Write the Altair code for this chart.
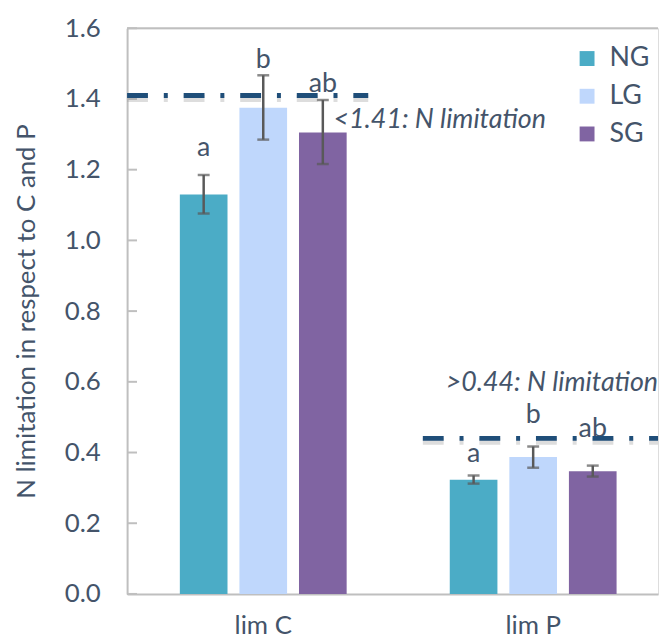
import altair as alt
import pandas as pd

# ---- data ----
groups = ["lim C", "lim C", "lim C", "lim P", "lim P", "lim P"]
treatments = ["NG", "LG", "SG", "NG", "LG", "SG"]
means = [1.13, 1.375, 1.305, 0.323, 0.387, 0.347]
err_low = [1.076, 1.285, 1.216, 0.312, 0.357, 0.332]
err_high = [1.185, 1.467, 1.397, 0.335, 0.417, 0.363]
letters = ["a", "b", "ab", "a", "b", "ab"]
letter_y = [1.26, 1.51, 1.443, 0.396, 0.505, 0.466]

y_ticks = [0.0, 0.2, 0.4, 0.6, 0.8, 1.0, 1.2, 1.4, 1.6]
thr_values = [1.41, 0.44]
thr_labels = ["<1.41: N limitation", ">0.44: N limitation"]
thr_label_y = [1.339, 0.597]

treat_order = ["NG", "LG", "SG"]
treat_colors = ["#4BACC6", "#BFD7FC", "#8064A2"]
group_order = ["lim C", "lim P"]

Y_TITLE = "N limitation in respect to C and P"
FONT = "Lato"
TXT = "#44546A"
GRID = "#BFBFBF"
W, H = 535, 570

df = pd.DataFrame({
    "group": groups, "treatment": treatments, "mean": means,
    "lo": err_low, "hi": err_high, "letter": letters, "ly": letter_y,
})
ticks_df = pd.DataFrame({"v": y_ticks})
thr1 = pd.DataFrame({"v": [thr_values[0]], "t": [thr_labels[0]], "ty": [thr_label_y[0]]})
thr2 = pd.DataFrame({"v": [thr_values[1]], "t": [thr_labels[1]], "ty": [thr_label_y[1]]})
top_df = pd.DataFrame({"v": [y_ticks[-1]]})

yscale = alt.Scale(domain=[0, 1.6], nice=False, zero=True)
xscale = alt.Scale(domain=group_order, paddingInner=0.382, paddingOuter=0.1745, align=0.56)
xoscale = alt.Scale(domain=treat_order, paddingInner=0.2, paddingOuter=0)

x_enc = alt.X("group:N", scale=xscale, title=None,
              axis=alt.Axis(labelAngle=0, labelFontSize=26, labelPadding=19, domain=True,
                            domainColor=GRID, domainWidth=2, ticks=False, tickSize=0,
                            labelColor=TXT, labelFont=FONT))
xo_enc = alt.XOffset("treatment:N", scale=xoscale)

bars = alt.Chart(df).mark_bar().encode(
    x=x_enc, xOffset=xo_enc,
    y=alt.Y("mean:Q", scale=yscale, title=Y_TITLE,
            axis=alt.Axis(values=y_ticks, format=".1f", grid=False, ticks=False, tickSize=0,
                          domainColor=GRID, domainWidth=2, labelFontSize=26, labelPadding=27,
                          labelColor=TXT, labelFont=FONT, titleFont=FONT, titleFontSize=26,
                          titleFontWeight="normal", titleColor=TXT, titlePadding=25)),
    color=alt.Color("treatment:N", scale=alt.Scale(domain=treat_order, range=treat_colors),
                    legend=alt.Legend(orient="none", legendX=450, legendY=17, title=None,
                                      symbolType="square", symbolSize=225, symbolStrokeWidth=0,
                                      labelFontSize=27, labelFont=FONT, labelColor=TXT,
                                      rowPadding=10, labelOffset=9)),
)

whisk = alt.Chart(df).mark_rule(color="#595959", strokeWidth=2.5).encode(
    x=x_enc, xOffset=xo_enc,
    y=alt.Y("lo:Q", scale=yscale, title=Y_TITLE), y2="hi:Q",
)
cap_hi = alt.Chart(df).mark_tick(color="#595959", thickness=2.5, size=12).encode(
    x=x_enc, xOffset=xo_enc, y=alt.Y("hi:Q", scale=yscale, title=Y_TITLE),
)
cap_lo = alt.Chart(df).mark_tick(color="#595959", thickness=2.5, size=12).encode(
    x=x_enc, xOffset=xo_enc, y=alt.Y("lo:Q", scale=yscale, title=Y_TITLE),
)
lett = alt.Chart(df).mark_text(font=FONT, fontSize=27, color=TXT, baseline="middle").encode(
    x=x_enc, xOffset=xo_enc, y=alt.Y("ly:Q", scale=yscale, title=Y_TITLE), text="letter:N",
)

yticks = alt.Chart(ticks_df).mark_rule(color=GRID, strokeWidth=2).encode(
    y=alt.Y("v:Q", scale=yscale, title=Y_TITLE), x=alt.value(0), x2=alt.value(10),
)
top_border = alt.Chart(top_df).mark_rule(color=GRID, strokeWidth=2).encode(
    y=alt.Y("v:Q", scale=yscale, title=Y_TITLE), x=alt.value(0), x2=alt.value(W),
)

DASH = [21, 16, 4, 16]
def thr_line(d, x0, x1):
    shadow = alt.Chart(d).mark_rule(color="#9E9E9E", opacity=0.35, strokeWidth=7,
                                    strokeDash=DASH, yOffset=3).encode(
        y=alt.Y("v:Q", scale=yscale, title=Y_TITLE), x=alt.value(x0), x2=alt.value(x1))
    line = alt.Chart(d).mark_rule(color="#1F4E79", strokeWidth=5, strokeDash=DASH,
                                  strokeCap="butt").encode(
        y=alt.Y("v:Q", scale=yscale, title=Y_TITLE), x=alt.value(x0), x2=alt.value(x1))
    return shadow + line

line1 = thr_line(thr1, 0, 243)
line2 = thr_line(thr2, 298, W)

ann1 = alt.Chart(thr1).mark_text(font=FONT, fontSize=27, fontStyle="italic", color=TXT,
                                 align="left", baseline="middle").encode(
    y=alt.Y("ty:Q", scale=yscale, title=Y_TITLE), x=alt.value(208), text="t:N")
ann2 = alt.Chart(thr2).mark_text(font=FONT, fontSize=27, fontStyle="italic", color=TXT,
                                 align="right", baseline="middle").encode(
    y=alt.Y("ty:Q", scale=yscale, title=Y_TITLE), x=alt.value(W), text="t:N")

chart = alt.layer(
    bars, whisk, cap_hi, cap_lo, lett, yticks, top_border, line1, line2, ann1, ann2
).properties(
    width=W, height=H,
    padding={"left": 5, "top": 5, "right": 0, "bottom": 0},
).configure_view(stroke=None).configure(background="white")

chart.save("out.html", embed_options={"renderer": "svg", "actions": False})
